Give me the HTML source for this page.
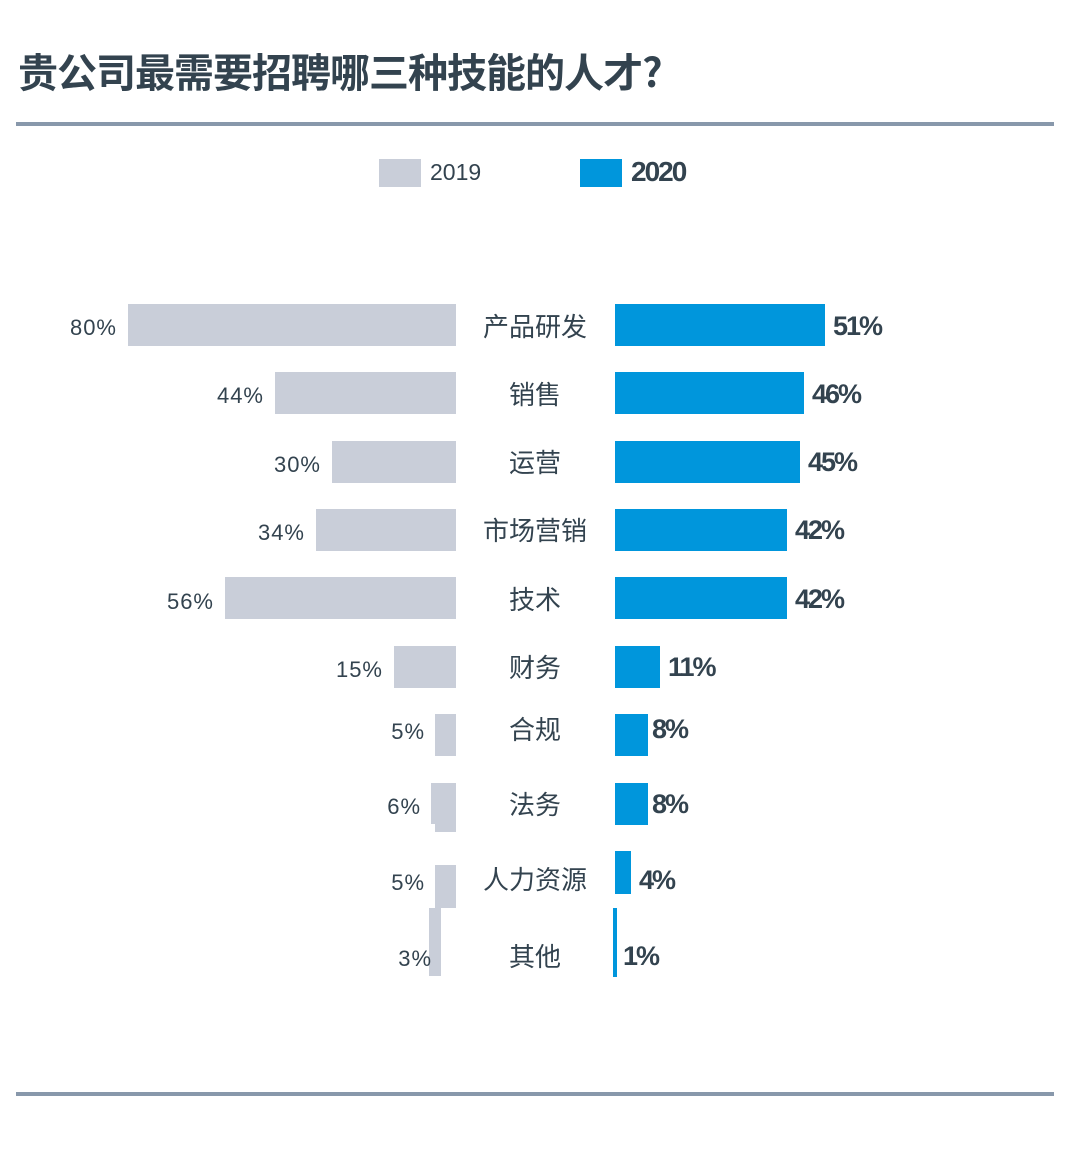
<!DOCTYPE html>
<html><head><meta charset="utf-8"><style>
body{margin:0;width:1078px;height:1151px;background:#fff;position:relative;overflow:hidden;font-family:"Liberation Sans","Noto Sans CJK SC",sans-serif;color:#33434f}
.a{position:absolute}
.g{position:absolute;background:#c9ced9}
.b{position:absolute;background:#0096dc}
.l{position:absolute;font-size:22px;text-align:right;width:120px;letter-spacing:1px}
.c{position:absolute;left:460px;width:150px;text-align:center;font-size:26px;font-family:"Noto Sans CJK SC",sans-serif;line-height:30px}
.r{position:absolute;font-size:27px;font-weight:bold;letter-spacing:-2px}
.line{position:absolute;left:16px;width:1038px;height:4px;background:#8898ab}
</style></head><body>
<div class="a" style="left:18px;top:45px;font-size:40px;line-height:50px;font-weight:bold;font-family:'Noto Sans CJK SC',sans-serif;letter-spacing:-1px">贵公司最需要招聘哪三种技能的人才?</div>
<div class="line" style="top:122px"></div>
<div class="line" style="top:1092px"></div>
<div class="g" style="left:379px;top:159px;width:42px;height:28px"></div>
<div class="a" style="left:430px;top:159px;font-size:23px">2019</div>
<div class="b" style="left:580px;top:159px;width:42px;height:28px"></div>
<div class="a" style="left:631px;top:156px;font-size:28px;font-weight:bold;letter-spacing:-2px">2020</div>

<div class="g" style="left:128px;top:304px;width:328px;height:42px"></div>
<div class="l" style="left:-3px;top:315px">80%</div>
<div class="c" style="top:311px">产品研发</div>
<div class="b" style="left:615px;top:304px;width:210px;height:42px"></div>
<div class="r" style="left:833px;top:311px">51%</div>

<div class="g" style="left:275px;top:372px;width:181px;height:42px"></div>
<div class="l" style="left:144px;top:383px">44%</div>
<div class="c" style="top:379px">销售</div>
<div class="b" style="left:615px;top:372px;width:189px;height:42px"></div>
<div class="r" style="left:812px;top:379px">46%</div>

<div class="g" style="left:332px;top:441px;width:124px;height:42px"></div>
<div class="l" style="left:201px;top:452px">30%</div>
<div class="c" style="top:447px">运营</div>
<div class="b" style="left:615px;top:441px;width:185px;height:42px"></div>
<div class="r" style="left:808px;top:447px">45%</div>

<div class="g" style="left:316px;top:509px;width:140px;height:42px"></div>
<div class="l" style="left:185px;top:520px">34%</div>
<div class="c" style="top:515px">市场营销</div>
<div class="b" style="left:615px;top:509px;width:172px;height:42px"></div>
<div class="r" style="left:795px;top:515px">42%</div>

<div class="g" style="left:225px;top:577px;width:231px;height:42px"></div>
<div class="l" style="left:94px;top:589px">56%</div>
<div class="c" style="top:584px">技术</div>
<div class="b" style="left:615px;top:577px;width:172px;height:42px"></div>
<div class="r" style="left:795px;top:584px">42%</div>

<div class="g" style="left:394px;top:646px;width:62px;height:42px"></div>
<div class="l" style="left:263px;top:657px">15%</div>
<div class="c" style="top:652px">财务</div>
<div class="b" style="left:615px;top:646px;width:45px;height:42px"></div>
<div class="r" style="left:668px;top:652px">11%</div>

<div class="g" style="left:435px;top:714px;width:21px;height:42px"></div>
<div class="l" style="left:305px;top:719px">5%</div>
<div class="c" style="top:714px">合规</div>
<div class="b" style="left:615px;top:714px;width:33px;height:42px"></div>
<div class="r" style="left:652px;top:714px">8%</div>

<div class="g" style="left:431px;top:783px;width:25px;height:41px"></div>
<div class="g" style="left:435px;top:790px;width:21px;height:42px"></div>
<div class="l" style="left:301px;top:794px">6%</div>
<div class="c" style="top:789px">法务</div>
<div class="b" style="left:615px;top:783px;width:33px;height:42px"></div>
<div class="r" style="left:652px;top:789px">8%</div>

<div class="g" style="left:435px;top:865px;width:21px;height:43px"></div>
<div class="l" style="left:305px;top:870px">5%</div>
<div class="c" style="top:864px">人力资源</div>
<div class="b" style="left:615px;top:851px;width:16px;height:43px"></div>
<div class="r" style="left:639px;top:865px">4%</div>

<div class="g" style="left:429px;top:908px;width:12px;height:68px"></div>
<div class="l" style="left:312px;top:946px">3%</div>
<div class="c" style="top:941px">其他</div>
<div class="b" style="left:613px;top:908px;width:4px;height:69px"></div>
<div class="r" style="left:623px;top:941px">1%</div>
</body></html>
